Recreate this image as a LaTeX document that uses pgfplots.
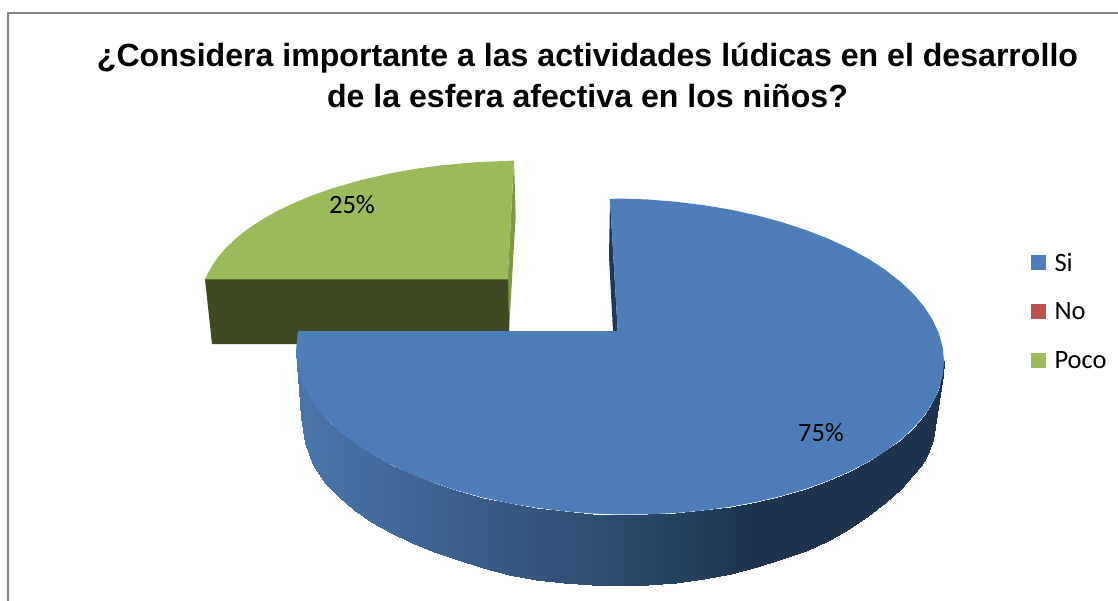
\documentclass[border=0pt]{standalone}
\usepackage{fontspec}
\setmainfont{Carlito}
\newfontfamily\arialb[Scale=1]{Liberation Sans}
\usepackage{pgfplots}
\pgfplotsset{compat=1.18}
\definecolor{blueTop}{RGB}{78,126,185}
\definecolor{blueEdge}{RGB}{31,56,90}
\definecolor{redL}{RGB}{192,80,77}
\definecolor{greenTop}{RGB}{155,186,90}
\definecolor{greenEdge}{RGB}{126,152,72}
\definecolor{greenDark}{RGB}{63,74,34}
\definecolor{frameC}{RGB}{134,134,134}
\begin{document}
\begin{tikzpicture}
\path (0,0) rectangle (1118pt,601pt);
\begin{axis}[
  at={(0,0)}, anchor=south west,
  scale only axis, width=1118pt, height=601pt,
  xmin=0, xmax=1118, ymin=0, ymax=601, y dir=reverse,
  axis lines=none, clip=true,
  colormap={bl}{rgb255(0)=(74,118,172) rgb255(324)=(44,74,110) rgb255(457)=(31,51,76) rgb255(648)=(31,51,76)},
  point meta min=296, point meta max=944,
  legend style={at={(axis cs:1031,251)}, anchor=north west, draw=none, fill=none,
    font=\fontsize{26.5}{26.5}\selectfont, row sep=26pt, inner sep=0pt, outer sep=0pt},
  legend cell align=left,
  legend image code/.code={\fill[#1,draw=none] (0pt,-7.5pt) rectangle (15pt,7.5pt);},
]
% frame
\addplot[frameC, line width=2pt, forget plot] coordinates {(7.5,601) (7.5,13.5) (1118,13.5)};
% green wedge: inner sliver, front wall, top
\addplot[fill=greenEdge, draw=none, forget plot] coordinates {(514,160.7) (515.7,216) (509,331) (507.7,279)} -- cycle;
\addplot[fill=greenDark, draw=none, forget plot] coordinates {(205,279) (508,279) (509.5,344) (212,344)} -- cycle;
\addplot[fill=greenTop, draw=none, forget plot] coordinates {(205,279.3) (208,273.1) (212,265.9) (218,257.2) (225,248.8) (235,239.2) (247,229.5) (260,220.8) (275,212.2) (290,204.8) (310,196.3) (330,189.1) (360,180.3) (390,173.4) (415,168.9) (440,165.5) (477,162.1) (514,160.6) (507.7,279.3)} -- cycle;
% blue wedge: inner sliver
\addplot[fill=blueEdge, draw=none, forget plot] coordinates {(610,199) (609,257) (613,331) (617.7,331)} -- cycle;
% blue wedge: rim
\addplot[surf, shader=interp, mesh/rows=2, point meta=x, forget plot] table[x=x,y=y] {
x y
296 351.5
297.2 365.3
300.9 379
307.1 392.6
315.5 405.8
326.4 418.8
339.4 431.2
354.6 443
371.8 454.3
390.9 464.7
411.7 474.3
434.2 483
458 490.8
483.1 497.6
509.2 503.3
536.1 507.8
563.7 511.2
591.8 513.5
620 514.5
648.2 514.3
676.3 513
703.9 510.4
730.8 506.7
756.9 501.8
782 495.8
805.8 488.8
828.3 480.7
849.1 471.7
868.2 461.9
885.4 451.2
900.6 439.8
913.6 427.8
924.5 415.2
932.9 402.2
939.1 388.8
942.8 375.3
944 361.5
296 351.5
298.5 390
300.7 417
305 443
313 465
325 483
339 497
354 510
371 522
391 533
412 543
434 552
458 560
483 568
509 574.5
536 579.5
564 582.5
592 584.5
620 585.5
648 585
676 583
704 579
731 573.5
757 567
782 559
806 551
828 541
849 529
868 516
885 502.5
901 488.5
913 475
921 465.5
927 456
933 440
938 407
941 377
};
% blue wedge: top
\addplot[fill=blueTop, draw=none, forget plot] coordinates {
(617.7,331) (610,199) (620,198.5) (648.2,199.5) (676.3,201.8) (703.9,205.2) (730.8,209.7) (756.9,215.4) (782,222.2) (805.8,230) (828.3,238.7) (849.1,248.3) (868.2,258.7) (885.4,270) (900.6,281.8) (913.6,294.2) (924.5,307.2) (932.9,320.4) (939.1,334) (942.8,347.7) (944,361.5)
(942.8,375.3) (939.1,388.8) (932.9,402.2) (924.5,415.2) (913.6,427.8) (900.6,439.8) (885.4,451.2) (868.2,461.9) (849.1,471.7) (828.3,480.7) (805.8,488.8) (782,495.8) (756.9,501.8) (730.8,506.7) (703.9,510.4) (676.3,513) (648.2,514.3) (620,514.5)
(591.8,513.5) (563.7,511.2) (536.1,507.8) (509.2,503.3) (483.1,497.6) (458,490.8) (434.2,483) (411.7,474.3) (390.9,464.7) (371.8,454.3) (354.6,443) (339.4,431.2) (326.4,418.8) (315.5,405.8) (307.1,392.6) (300.9,379) (297.2,365.3) (296,351.5) (297.2,337.7) (298,331)
} -- cycle;
% legend
\addlegendimage{fill=blueTop}
\addlegendentry{\hspace*{6.5pt}Si}
\addlegendimage{fill=redL}
\addlegendentry{\hspace*{6.5pt}No}
\addlegendimage{fill=greenTop}
\addlegendentry{\hspace*{6.5pt}Poco}
% texts
\node[font=\arialb\fontsize{32.1}{41}\selectfont\bfseries, align=center, anchor=center] at (axis cs:587.5,75) {¿Considera importante a las actividades lúdicas en el desarrollo\\de la esfera afectiva en los niños?};
\node[font=\fontsize{26.5}{26.5}\selectfont] at (axis cs:352,205) {25\%};
\node[font=\fontsize{26.5}{26.5}\selectfont] at (axis cs:821,433) {75\%};
\end{axis}
\end{tikzpicture}
\end{document}
